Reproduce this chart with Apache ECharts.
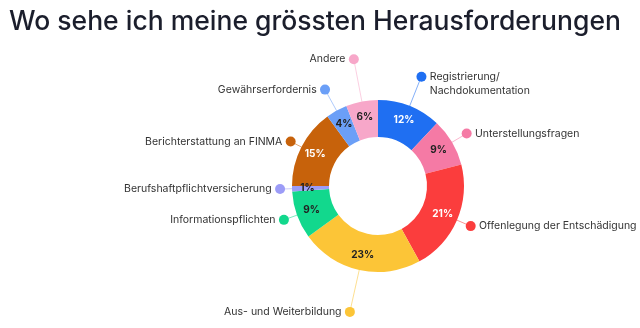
<!DOCTYPE html>
<html><head><meta charset="utf-8">
<script src="https://cdn.jsdelivr.net/npm/echarts@6/dist/echarts.min.js"></script>
<style>html,body{margin:0;padding:0;background:#fff;}#c{width:640px;height:328px;}</style>
</head><body><div id="c"></div>
<script>
const categories = ['Registrierung/\nNachdokumentation','Unterstellungsfragen','Offenlegung der Entschädigung','Aus- und Weiterbildung','Informationspflichten','Berufshaftpflichtversicherung','Berichterstattung an FINMA','Gewährserfordernis','Andere'];
const values = [12, 9, 21, 23, 9, 1, 15, 4, 6];
const colors = ['#1f6ff2','#f57aa5','#fb3d3d','#fcc537','#12d88d','#9c9cf7','#c7620b','#6b9ff7','#f7a7c9'];
const insideTextColors = ['#fff','#222','#fff','#222','#222','#222','#fff','#222','#222'];
const lineLengths = [32, 17, 15, 43, 14, 12, 12, 24, 43];
const rightSide = [true, true, true, false, false, false, false, false, false];

const center = ['378', '186'];
const radius = [49, 86];

const outerData = categories.map((name, i) => {
  const lines = name.split('\n');
  let fmt;
  if (rightSide[i]) {
    fmt = '{d|} {t|' + lines[0] + '}' + (lines[1] ? '\n{s|} {t|' + lines[1] + '}' : '');
  } else {
    fmt = '{t|' + lines[0] + '} {d|}';
  }
  return {
    name, value: values[i],
    itemStyle: { color: colors[i] },
    labelLine: { length: lineLengths[i], length2: 0, lineStyle: { color: colors[i], opacity: 0.55, width: 1 } },
    label: {
      formatter: fmt,
      padding: lines[1] ? [15, 0, 0, 0] : 0,
      rich: {
        d: { width: 10, height: 10, borderRadius: 5, backgroundColor: colors[i] },
        s: { width: 10, height: 10 },
        t: { fontSize: 10.5, color: '#333', fontFamily: 'Inter', lineHeight: 14 }
      }
    }
  };
});

const innerData = categories.map((name, i) => ({
  name, value: values[i],
  label: { color: insideTextColors[i] }
}));

const chart = echarts.init(document.getElementById('c'), null, { renderer: 'canvas' });
chart.setOption({
  animation: false,
  title: {
    text: 'Wo sehe ich meine grössten Herausforderungen',
    left: 4, top: 4,
    textStyle: { fontFamily: 'Inter', fontSize: 26.5, fontWeight: 500, color: '#1b1e2c' }
  },
  series: [
    {
      type: 'pie', center: center, radius: radius, startAngle: 90, clockwise: true,
      avoidLabelOverlap: false, silent: true,
      label: { show: true, position: 'outside', distanceToLabelLine: -5 },
      labelLine: { show: true, smooth: false },
      data: outerData
    },
    {
      type: 'pie', center: center, radius: radius, startAngle: 90, clockwise: true,
      avoidLabelOverlap: false, silent: true,
      itemStyle: { color: 'transparent' },
      label: { show: true, position: 'inside', formatter: '{d}%', fontSize: 10, fontWeight: 'bold', fontFamily: 'Inter' },
      labelLine: { show: false },
      data: innerData
    }
  ]
});
</script>
</body></html>
